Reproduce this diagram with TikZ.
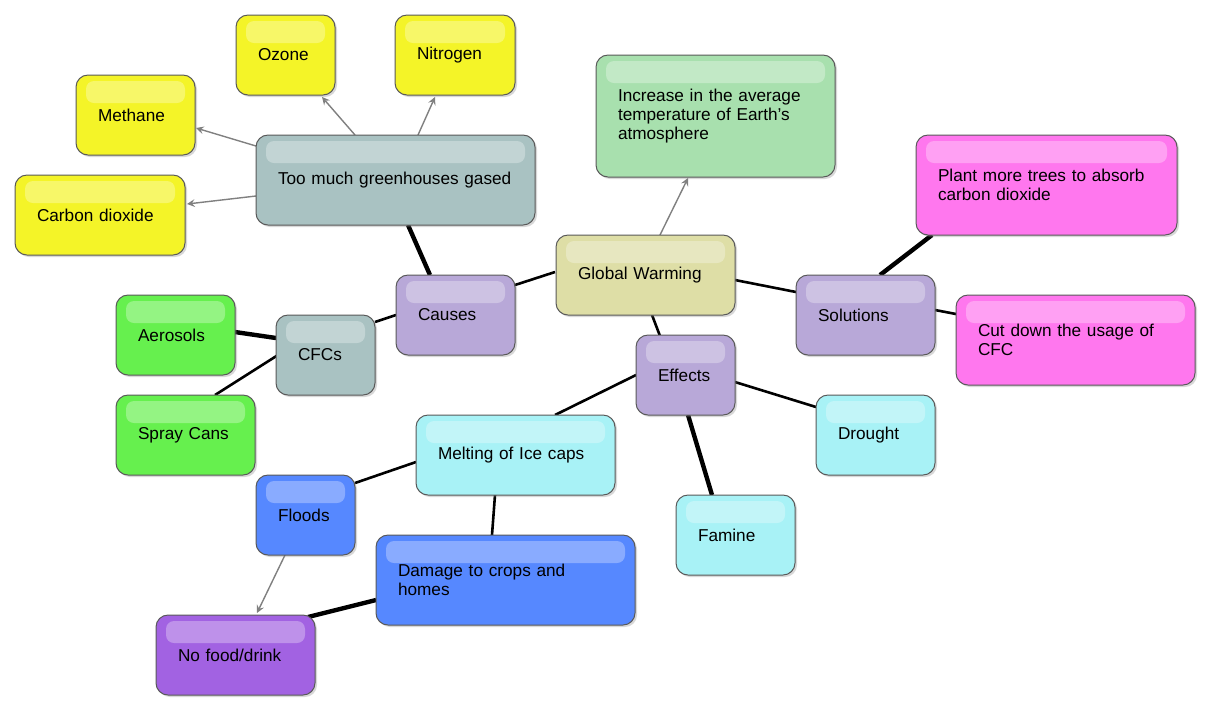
\documentclass[tikz,border=0pt]{standalone}
\usepackage{fontspec}
\setmainfont{Liberation Sans}
\usetikzlibrary{shadows}
\definecolor{cyel}{HTML}{F4F428}
\definecolor{cgry}{HTML}{A9C2C2}
\definecolor{cgrn}{HTML}{A8E0AE}
\definecolor{cpnk}{HTML}{FF77EE}
\definecolor{ctan}{HTML}{DEDEA6}
\definecolor{clav}{HTML}{B8A8D8}
\definecolor{clim}{HTML}{66F04E}
\definecolor{ccya}{HTML}{A8F2F6}
\definecolor{cblu}{HTML}{5688FF}
\definecolor{cpur}{HTML}{A262E2}
\tikzset{
  box/.style={draw=gray!70!black, rounded corners=6pt, line width=0.5pt, drop shadow={opacity=0.3,shadow xshift=1pt,shadow yshift=-1pt}, font=\fontsize{8.6}{9.6}\selectfont, align=left, inner sep=0pt},
  garr/.style={draw=gray, line width=0.7pt, -stealth},
  bl/.style={draw=black, line width=1.3pt},
  blt/.style={draw=black, line width=2.2pt}
}
\newcommand{\bx}[7]{%
  \pgfmathsetmacro{\cx}{(#2+#4)/2}\pgfmathsetmacro{\cy}{(#3+#5)/2}%
  \pgfmathsetmacro{\ww}{(#4-#2)*0.5}\pgfmathsetmacro{\hh}{(#5-#3)*0.5}%
  \pgfmathsetmacro{\tw}{(#4-#2-44)*0.5}%
  \node[box, fill=#6, minimum width=\ww pt, minimum height=\hh pt, text width=\tw pt] (#1) at (\cx,\cy) {#7};
  \fill[white, opacity=0.3, rounded corners=4pt] (#2+10,#3+6) rectangle (#4-10,#3+28);
}
\begin{document}
\begin{tikzpicture}[x=0.5pt,y=-0.5pt]
\useasboundingbox[fill=white] (0,0) rectangle (1220,720);
% connectors first (behind boxes)
\coordinate (p1) at (355,135); \coordinate (p2) at (418,135);
\coordinate (p3) at (256,146); \coordinate (p4) at (256,196);
\draw[garr] (p1) -- (322,97);
\draw[garr] (p2) -- (435,97);
\draw[garr] (p3) -- (196,128);
\draw[garr] (p4) -- (187,204);
\draw[bl] (555,272) -- (515,285);
\draw[bl] (735,280) -- (796,292);
\draw[bl] (652,315) -- (660,336);
\draw[blt] (430,275) -- (408,225);
\draw[bl] (396,315) -- (375,322);
\draw[blt] (235,332) -- (276,338);
\draw[bl] (215,395) -- (278,355);
\draw[blt] (880,275) -- (932,235);
\draw[bl] (935,310) -- (956,314);
\draw[bl] (636,375) -- (555,415);
\draw[bl] (735,382) -- (816,407);
\draw[blt] (688,415) -- (712,495);
\draw[bl] (416,462) -- (355,483);
\draw[bl] (495,495) -- (492,535);
\draw[blt] (376,600) -- (308,617);
\draw[garr] (285,555) -- (257,613);
\draw[garr] (660,235) -- (688,178);
% boxes
\bx{oz}{236}{15}{335}{95}{cyel}{Ozone}
\bx{ni}{395}{15}{515}{95}{cyel}{Nitrogen}
\bx{me}{76}{75}{195}{155}{cyel}{Methane}
\bx{gh}{256}{135}{535}{225}{cgry}{Too much greenhouses gased}
\bx{cd}{15}{175}{185}{255}{cyel}{Carbon dioxide}
\bx{inc}{596}{55}{835}{177}{cgrn}{Increase in the average temperature of Earth's atmosphere}
\bx{pl}{916}{135}{1177}{235}{cpnk}{Plant more trees to absorb carbon dioxide}
\bx{gw}{556}{235}{735}{315}{ctan}{Global Warming}
\bx{ca}{396}{275}{515}{355}{clav}{Causes}
\bx{so}{796}{275}{935}{355}{clav}{Solutions}
\bx{cu}{956}{295}{1195}{385}{cpnk}{Cut down the usage of CFC}
\bx{ae}{116}{295}{235}{375}{clim}{Aerosols}
\bx{cf}{276}{315}{375}{395}{cgry}{CFCs}
\bx{ef}{636}{335}{735}{415}{clav}{Effects}
\bx{sp}{116}{395}{255}{475}{clim}{Spray Cans}
\bx{mi}{416}{415}{615}{495}{ccya}{Melting of Ice caps}
\bx{dr}{816}{395}{935}{475}{ccya}{Drought}
\bx{fl}{256}{475}{355}{555}{cblu}{Floods}
\bx{fa}{676}{495}{795}{575}{ccya}{Famine}
\bx{da}{376}{535}{635}{625}{cblu}{Damage to crops and homes}
\bx{nf}{156}{615}{315}{695}{cpur}{No food/drink}
\end{tikzpicture}
\end{document}
